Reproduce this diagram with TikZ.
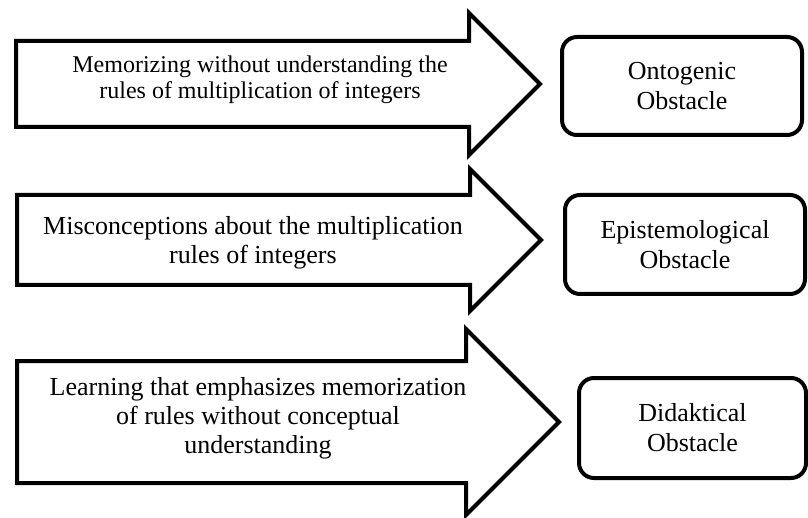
\documentclass[tikz,border=0pt]{standalone}
\usepackage{fontspec}
\setmainfont{Liberation Serif}
\usetikzlibrary{positioning,calc}
\tikzset{
    cause-arrow/.style={
        draw=black,
        line width=4pt,
        fill=white
    },
    cause-text/.style={
        align=center,
        inner sep=0pt,
        font=\fontsize{26}{29}\selectfont
    },
    obstacle-box/.style={
        draw=black,
        line width=4pt,
        rounded corners=15pt,
        align=center,
        inner sep=0pt,
        font=\fontsize{26}{30}\selectfont
    },
}

\begin{document}
\begin{tikzpicture}[x=1pt,y=-1pt]
       \useasboundingbox (0,0) rectangle (808,518);

       % Arrows
       \draw[cause-arrow] (16,41) -- (469,41) -- (469,13) -- (540,84) -- (469,155) -- (469,127) -- (16,127) -- cycle;
       \draw[cause-arrow] (17,195) -- (470,195) -- (470,169) -- (541,240) -- (470,311) -- (470,285) -- (17,285) -- cycle;
       \draw[cause-arrow] (17,361) -- (466,361) -- (466,329) -- (559,422) -- (466,515) -- (466,483) -- (17,483) -- cycle;

       \node[cause-text,font=\fontsize{24}{26}\selectfont] (memorize) at (260,80) {Memorizing without understanding the\\rules of multiplication of integers};
       \node[cause-text] (misconception) at (253,243) {Misconceptions about the multiplication\\rules of integers};
       \node[cause-text] (learning) at (258,418) {Learning that emphasizes memorization\\of rules without conceptual\\understanding};

       % Obstacles
       \node[obstacle-box,minimum width=240pt,minimum height=98pt] (ontogenic) at (682,86) {Ontogenic\\Obstacle};
       \node[obstacle-box,minimum width=240pt,minimum height=99pt] (epistemological) at (685,244.5) {Epistemological\\Obstacle};
       \node[obstacle-box,minimum width=227pt,minimum height=100pt] (didactical) at (692.5,428) {Didaktical\\Obstacle};

   \end{tikzpicture}
\end{document}
